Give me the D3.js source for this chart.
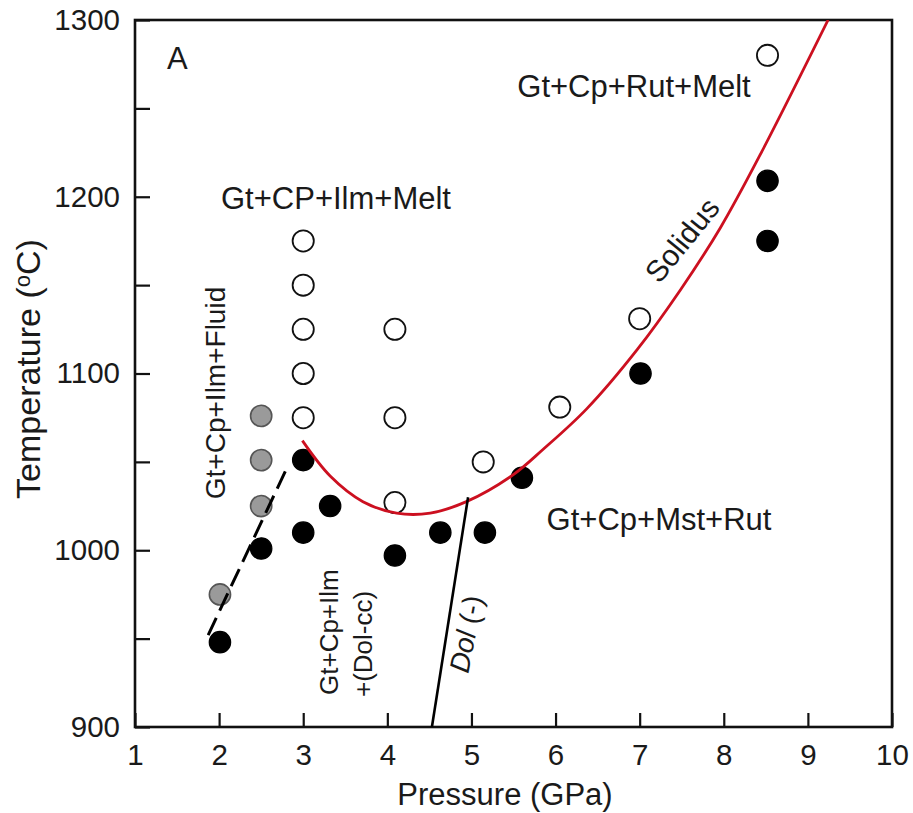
<!DOCTYPE html>
<html><head><meta charset="utf-8">
<script src="https://cdn.jsdelivr.net/npm/d3@7"></script>
<style>body{margin:0;background:#fff;} svg{display:block;} text{font-family:"Liberation Sans",Arial,sans-serif;fill:#1a1a1a;}</style>
</head><body>
<svg id="chart" width="913" height="813"></svg>
<script>
// ---- data ----
const openP   = [3, 3, 3, 3, 3, 4.09, 4.09, 4.09, 5.14, 6.05, 7.0, 8.52];
const openT   = [1175, 1150, 1125, 1100, 1075, 1125, 1075, 1027, 1050, 1081, 1131, 1280];
const filledP = [2.01, 2.5, 3, 3, 3.32, 4.09, 4.63, 5.16, 5.6, 7.01, 8.52, 8.52];
const filledT = [948, 1001, 1051, 1010, 1025, 997, 1010, 1010, 1041, 1100, 1209, 1175];
const grayP   = [2.01, 2.5, 2.5, 2.5];
const grayT   = [975, 1025, 1051, 1076];
const solidusP = [2.99, 3.32, 3.71, 4.11, 4.51, 4.94, 5.49, 5.85, 6.37, 6.97, 7.48, 7.96, 8.43, 9.24];
const solidusT = [1062, 1042, 1027.5, 1021, 1021, 1027.5, 1042.5, 1057, 1080, 1113.5, 1147, 1182.5, 1223.5, 1300];
const fluidP = [1.87, 2.81];
const fluidT = [952, 1047];
const dolP = [4.53, 4.96];
const dolT = [900, 1030];
const xTicks = [1, 2, 3, 4, 5, 6, 7, 8, 9, 10];
const yTicks = [900, 950, 1000, 1050, 1100, 1150, 1200, 1250, 1300];
const yTickLabels = ["900", "", "1000", "", "1100", "", "1200", "", "1300"];

const svg = d3.select("#chart");
const x = d3.scaleLinear().domain([1, 10]).range([135, 892]);
const y = d3.scaleLinear().domain([900, 1300]).range([727, 20]);

// axes (inward ticks)
const gx = svg.append("g").attr("transform", "translate(0,727)")
  .call(d3.axisBottom(x).tickValues(xTicks).tickSize(-14).tickPadding(17).tickFormat(d3.format("d")));
gx.select(".domain").remove();
gx.selectAll("line").attr("stroke", "#111").attr("stroke-width", 2.2);
gx.selectAll("text").attr("font-size", 29.5).attr("font-family", "Liberation Sans, Arial").attr("fill", "#1a1a1a");

const gy = svg.append("g").attr("transform", "translate(135,0)")
  .call(d3.axisLeft(y).tickValues(yTicks).tickSize(-15).tickPadding(15).tickFormat((d, i) => yTickLabels[i]));
gy.select(".domain").remove();
gy.selectAll("line").attr("stroke", "#111").attr("stroke-width", 2.2);
gy.selectAll("text").attr("font-size", 29.5).attr("font-family", "Liberation Sans, Arial").attr("fill", "#1a1a1a");

// frame
svg.append("rect").attr("x", 135).attr("y", 20).attr("width", 757).attr("height", 707)
  .attr("fill", "none").attr("stroke", "#111").attr("stroke-width", 2.6);

// clip
svg.append("clipPath").attr("id", "clip").append("rect")
  .attr("x", 135).attr("y", 20).attr("width", 757).attr("height", 707);

const plot = svg.append("g");

// points
const toPts = (P, T) => P.map((p, i) => [p, T[i]]);
plot.selectAll("circle.open").data(toPts(openP, openT)).enter().append("circle")
  .attr("cx", d => x(d[0])).attr("cy", d => y(d[1])).attr("r", 10.6)
  .attr("fill", "#fff").attr("stroke", "#111").attr("stroke-width", 1.8);
plot.selectAll("circle.gray").data(toPts(grayP, grayT)).enter().append("circle")
  .attr("cx", d => x(d[0])).attr("cy", d => y(d[1])).attr("r", 10.6)
  .attr("fill", "#9a9a9a").attr("stroke", "#555").attr("stroke-width", 1.6);
plot.selectAll("circle.filled").data(toPts(filledP, filledT)).enter().append("circle")
  .attr("cx", d => x(d[0])).attr("cy", d => y(d[1])).attr("r", 10.7)
  .attr("fill", "#000").attr("stroke", "#000").attr("stroke-width", 1.2);

const line = d3.line().x(d => x(d[0])).y(d => y(d[1]));

// solidus
plot.append("path").datum(toPts(solidusP, solidusT))
  .attr("clip-path", "url(#clip)")
  .attr("d", d3.line().x(d => x(d[0])).y(d => y(d[1])).curve(d3.curveCatmullRom.alpha(0.5)))
  .attr("fill", "none").attr("stroke", "#cc1020").attr("stroke-width", 2.8);

// fluid dashed line
plot.append("path")
  .attr("d", line(toPts(fluidP, fluidT)))
  .attr("fill", "none").attr("stroke", "#000").attr("stroke-width", 3)
  .attr("stroke-dasharray", "19,8");

// dolomite line
plot.append("path")
  .attr("d", line(toPts(dolP, dolT)))
  .attr("fill", "none").attr("stroke", "#000").attr("stroke-width", 2.6);

// labels
const lab = svg.append("g");
lab.append("text").attr("x", 167).attr("y", 69).attr("font-size", 31).text("A");
lab.append("text").attr("x", 336).attr("y", 209).attr("font-size", 31).attr("text-anchor", "middle").text("Gt+CP+Ilm+Melt");
lab.append("text").attr("x", 634).attr("y", 97).attr("font-size", 31).attr("text-anchor", "middle").text("Gt+Cp+Rut+Melt");
lab.append("text").attr("x", 659).attr("y", 530).attr("font-size", 31).attr("text-anchor", "middle").text("Gt+Cp+Mst+Rut");
lab.append("text").attr("transform", "translate(682,240) rotate(-51)").attr("dy", "0.35em")
  .attr("font-size", 30).attr("text-anchor", "middle").text("Solidus");
lab.append("text").attr("transform", "translate(215,393) rotate(-90)").attr("dy", "0.35em")
  .attr("font-size", 28).attr("text-anchor", "middle").text("Gt+Cp+Ilm+Fluid");
lab.append("text").attr("transform", "translate(338,695) rotate(-90)")
  .attr("font-size", 26).attr("text-anchor", "start").text("Gt+Cp+Ilm");
lab.append("text").attr("transform", "translate(372,697) rotate(-90)")
  .attr("font-size", 26).attr("text-anchor", "start").text("+(Dol-cc)");
const dt = lab.append("text").attr("transform", "translate(466,634) rotate(-79)").attr("dy", "0.35em")
  .attr("font-size", 28).attr("text-anchor", "middle");
dt.append("tspan").attr("font-style", "italic").text("Dol");
dt.append("tspan").text(" (-)");

// axis titles
lab.append("text").attr("x", 505).attr("y", 805).attr("font-size", 31).attr("text-anchor", "middle").text("Pressure (GPa)");
const yt = lab.append("text").attr("transform", "translate(28,369) rotate(-90)").attr("dy", "0.35em")
  .attr("font-size", 34).attr("text-anchor", "middle");
yt.append("tspan").text("Temperature (");
yt.append("tspan").attr("font-size", 22).attr("dy", "-0.45em").text("o");
yt.append("tspan").attr("dy", "0.3em").text("C)");
</script>
</body></html>
